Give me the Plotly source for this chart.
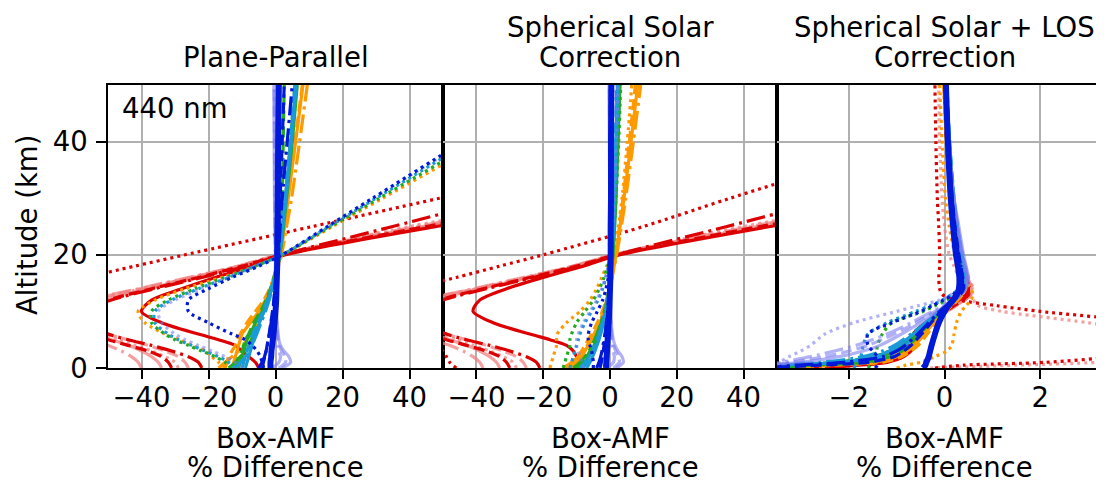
import plotly.graph_objects as go

# ---------------- data ----------------
ALT = [0, 1, 2, 3, 4, 5, 6, 8, 10, 12, 14, 16, 18, 20, 25, 30, 40, 50]
ALT3 = [0, 0.5, 1, 2, 3, 4, 6, 8, 10, 11, 12, 13, 14, 16, 18, 20, 25, 30, 40, 50]

X_TICKS_12 = [-40, -20, 0, 20, 40]
X_TICKS_3 = [-2, 0, 2]
Y_TICKS = [0, 20, 40]
PANEL_TITLES = [["Plane-Parallel"], ["Spherical Solar", "Correction"],
                ["Spherical Solar + LOS", "Correction"]]
X_TITLE = ["Box-AMF", "% Difference"]
Y_TITLE = "Altitude (km)"
WAVE_LABEL = "440 nm"

# Panel 1: Plane-Parallel
P1_LRED_SOLID = [-34, -35, -37, -40, -44, -49, -54, -60, -60, -52, -38, -24, -10, 2, 45, 95, 190, 290]
P1_LRED_DASH = [-26, -27, -29, -33, -38, -44, -50, -58, -62, -55, -40, -25, -11, 1, 44, 95, 190, 290]
P1_LRED_DASHDOT = [-40, -41, -43, -46, -50, -54, -58, -64, -64, -56, -41, -26, -11, 1, 42, 90, 185, 285]
P1_LRED_DOT = [-29, -30, -33, -37, -42, -47, -52, -60, -62, -54, -40, -25, -11, 1, 40, 88, 180, 280]
P1_RED_SOLID = [-5, -6, -8, -10, -12, -17, -23, -34, -40, -37, -28, -18, -7, 3, 48, 100, 200, 300]
P1_RED_DASH = [-31, -32, -34, -38, -44, -50, -55, -60, -59, -50, -37, -23, -10, 2, 45, 95, 190, 290]
P1_RED_DASHDOT = [-22, -23, -26, -31, -37, -44, -50, -57, -57, -49, -36, -22, -9, 2, 35, 68, 140, 210]
P1_RED_DOT = [-75, -78, -81, -85, -88, -91, -94, -98, -97, -90, -74, -57, -42, -27, 11, 49, 125, 200]
P1_OR_SOLID = [-13, -12.5, -12, -11.5, -11, -10.5, -10, -7.5, -5, -3, -1.5, -0.3, 0.8, 1.5, 2.7, 3.8, 6, 8.2]
P1_OR_DASH = [-15, -14.5, -14, -13, -12, -11.5, -10.5, -8.5, -6, -3.5, -1.8, -0.5, 0.6, 1.3, 2.5, 3.6, 5.8, 8]
P1_OR_DASHDOT = [-17, -15, -13, -11, -9.5, -8.5, -7.5, -5.5, -3.8, -2.3, -1.2, -0.2, 0.9, 1.8, 3.3, 4.8, 7.2, 9.5]
P1_OR_DOT = [-15, -17, -19, -21, -25, -29, -33, -39, -41, -36, -27, -16, -6, 2, 17, 32, 62, 92]
P1_GR_SOLID = [-11, -10.5, -10, -9.5, -9, -8.5, -7.5, -6, -4, -2.5, -1.2, -0.2, 0.7, 1.3, 2.4, 3.3, 5, 6.5]
P1_GR_DASH = [-12, -11.5, -11, -10, -9.5, -9, -8, -6.5, -4.5, -2.8, -1.5, -0.5, 0.3, 0.9, 1.5, 2, 2.3, 2.6]
P1_GR_DASHDOT = [-14, -12, -10.5, -9, -8, -7.2, -6.5, -5, -3.5, -2.2, -1.1, -0.2, 0.6, 1.2, 2.2, 3, 4.5, 5.8]
P1_GR_DOT = [-13, -15, -18, -22, -26, -30, -33, -37, -37, -32, -24, -15, -6, 2, 16.5, 31, 60, 89]
P1_TE_DOT = [-12, -14, -17, -21, -25, -29, -32, -36, -36, -31, -23, -14, -6, 2, 16, 30, 58, 86]
P1_TE_SOLID = [-9, -8.5, -8, -7.5, -7, -6.5, -6, -4.8, -3.4, -2.2, -1.1, -0.2, 0.6, 1.2, 2.2, 3.1, 4.7, 6.2]
P1_TE_DASH = [-10, -9.5, -9, -8.5, -8, -7.5, -6.8, -5.3, -3.8, -2.4, -1.3, -0.3, 0.5, 1.1, 2, 2.9, 4.4, 5.8]
P1_TE_DASHDOT = [-12, -10.5, -9, -8, -7, -6.3, -5.6, -4.3, -3, -1.9, -1, -0.2, 0.5, 1.1, 2.1, 3, 4.6, 6]
P1_LB_SOLID = [2, 4.5, 4, 2.5, 1.5, 1, 0.8, 0.5, 0.3, 0.2, 0.1, 0, 0, 0, -0.2, -0.3, -0.4, -0.5]
P1_LB_DASH = [1, 3, 2.8, 1.8, 1.2, 0.8, 0.6, 0.4, 0.2, 0.1, 0, 0, 0, 0, -0.1, -0.2, -0.3, -0.4]
P1_LB_DASHDOT = [-1, 1, 1.5, 1, 0.7, 0.5, 0.4, 0.3, 0.2, 0.1, 0.1, 0, 0, 0, 0, -0.1, -0.2, -0.3]
P1_LB_DOT = [-10, -12, -15, -19, -23, -27, -30, -34, -35, -30, -22, -14, -6, 2, 15.5, 29, 57, 85]
P1_BL_SOLID = [-1.5, -1.5, -1.3, -1.2, -1, -0.8, -0.6, -0.3, 0, 0.2, 0.3, 0.4, 0.5, 0.5, 0.6, 0.7, 0.8, 1]
P1_BL_DASH = [-4, -3.6, -3.2, -2.8, -2.5, -2.2, -1.9, -1.4, -0.9, -0.5, -0.2, 0.1, 0.4, 0.6, 1, 1.4, 2, 2.6]
P1_BL_DASHDOT = [-5, -4, -3.3, -2.8, -2.4, -2.1, -1.8, -1.3, -0.8, -0.4, -0.1, 0.2, 0.5, 0.8, 1.4, 2, 3.5, 5]
P1_BL_DOT = [-3.5, -4, -4.5, -5.5, -7, -9, -13, -20, -26, -26, -20, -13, -5, 2, 15.5, 29, 56, 83]

# Panel 2: Spherical Solar Correction
P2_LRED_SOLID = [-33, -34, -36, -39, -43, -48, -53, -60, -61, -53, -39, -24, -10, 2, 45, 95, 190, 290]
P2_LRED_DASH = [-25, -26, -28, -32, -37, -43, -49, -57, -61, -55, -40, -25, -11, 1, 44, 95, 190, 290]
P2_LRED_DASHDOT = [-38, -39, -41, -44, -48, -53, -57, -63, -64, -56, -41, -26, -11, 1, 42, 90, 185, 285]
P2_LRED_DOT = [-28, -29, -32, -36, -41, -46, -51, -59, -62, -54, -40, -25, -11, 1, 40, 88, 180, 280]
P2_RED_SOLID = [-8, -9, -10, -11, -13, -18, -24, -35, -41, -39, -31, -20, -8, 3, 48, 100, 200, 300]
P2_RED_DASH = [-30, -31, -33, -37, -43, -49, -54, -60, -59, -51, -38, -24, -10, 2, 45, 95, 190, 290]
P2_RED_DASHDOT = [-21, -22, -25, -30, -36, -43, -49, -56, -57, -50, -37, -23, -9, 2, 35, 68, 140, 210]
P2_RED_DOT = [-46, -48, -49, -50, -52, -55, -60, -68, -72, -70, -60, -46, -33, -20, 10, 36, 90, 140]
P2_OR_SOLID = [-12, -10, -8.5, -7.5, -6.5, -5.5, -4.5, -3, -1.8, -0.8, 0, 0.6, 1.2, 1.8, 3, 4.2, 6.3, 8.3]
P2_OR_DASH = [-13, -11, -9.5, -8.5, -7.5, -6.5, -5.5, -3.8, -2.3, -1.1, -0.2, 0.5, 1.1, 1.7, 2.8, 3.9, 5.8, 7.6]
P2_OR_DASHDOT = [-14, -11.5, -9.5, -8, -6.8, -5.8, -4.8, -3.2, -2, -1, -0.1, 0.6, 1.3, 2, 3.4, 4.7, 7, 9.2]
P2_OR_DOT = [-18, -17.5, -17, -16.5, -16, -16, -15.8, -13, -9, -6, -4, -2.5, -1, 0.8, 2.5, 3.6, 5.2, 6.5]
P2_GR_SOLID = [-9, -7.5, -6.5, -5.5, -4.8, -4, -3.3, -2.2, -1.3, -0.6, -0.1, 0.3, 0.6, 0.9, 1.4, 1.8, 2.4, 3]
P2_GR_DASH = [-10, -8.5, -7, -6, -5.2, -4.5, -3.8, -2.6, -1.6, -0.8, -0.3, 0.1, 0.4, 0.7, 1.1, 1.5, 2, 2.5]
P2_GR_DASHDOT = [-11, -9, -7.5, -6.3, -5.4, -4.6, -3.9, -2.7, -1.7, -0.9, -0.3, 0.1, 0.5, 0.8, 1.3, 1.7, 2.3, 2.8]
P2_GR_DOT = [-14, -13.5, -13, -12.5, -12, -12, -11.5, -10, -7.5, -5, -3.2, -1.8, -0.7, 0.2, 1.2, 1.8, 2.6, 3.2]
P2_TE_SOLID = [-7, -6, -5.2, -4.5, -3.9, -3.3, -2.8, -1.9, -1.1, -0.5, -0.1, 0.2, 0.4, 0.6, 1, 1.3, 1.8, 2.2]
P2_TE_DASH = [-8, -7, -6, -5.2, -4.5, -3.8, -3.2, -2.2, -1.3, -0.7, -0.2, 0.1, 0.3, 0.5, 0.9, 1.2, 1.6, 2]
P2_TE_DASHDOT = [-9, -7.5, -6.3, -5.4, -4.6, -3.9, -3.3, -2.3, -1.4, -0.7, -0.2, 0.1, 0.4, 0.6, 1, 1.3, 1.8, 2.2]
P2_TE_DOT = [-12, -11.5, -11, -10.5, -10, -9.5, -9, -7.5, -5.5, -3.6, -2.2, -1.2, -0.4, 0.2, 0.9, 1.4, 2, 2.5]
P2_LB_SOLID = [2, 4, 3.6, 2.4, 1.5, 1, 0.7, 0.4, 0.2, 0.1, 0, 0, 0, 0, -0.1, -0.1, -0.2, -0.3]
P2_LB_DASH = [1, 2.8, 2.5, 1.7, 1.1, 0.7, 0.5, 0.3, 0.2, 0.1, 0, 0, 0, 0, 0, -0.1, -0.1, -0.2]
P2_LB_DASHDOT = [-1, 1, 1.3, 0.9, 0.6, 0.4, 0.3, 0.2, 0.1, 0, 0, 0, 0, 0, 0, 0, -0.1, -0.1]
P2_LB_DOT = [-8, -8.5, -9, -9.5, -10, -10, -9.5, -8, -6, -4, -2.5, -1.4, -0.5, 0.1, 0.8, 1.3, 1.9, 2.4]
P2_BL_SOLID = [-1.2, -1.1, -1, -0.9, -0.8, -0.7, -0.6, -0.4, -0.2, -0.1, 0, 0.1, 0.1, 0.2, 0.2, 0.3, 0.3, 0.4]
P2_BL_DASH = [-3, -2.6, -2.3, -2, -1.8, -1.6, -1.4, -1, -0.6, -0.3, -0.1, 0, 0.1, 0.2, 0.3, 0.4, 0.5, 0.6]
P2_BL_DASHDOT = [-4, -3.3, -2.8, -2.4, -2.1, -1.8, -1.5, -1.1, -0.7, -0.4, -0.2, 0, 0.1, 0.2, 0.3, 0.4, 0.5, 0.6]
P2_BL_DOT = [-5, -5, -5.2, -5.5, -6, -6.5, -6.5, -5.5, -3.8, -2.2, -1.2, -0.5, 0, 0.3, 0.5, 0.6, 0.7, 0.8]

# Panel 3: Spherical Solar + LOS Correction
P3_LRED_SOLID = [-3.0, -2.3, -1.5, -1.0, -0.8, -0.66, -0.5, -0.25, 0.05, 0.22, 0.4, 0.52, 0.55, 0.47, 0.4, 0.33, 0.22, 0.14, 0.05, 0.0]
P3_LRED_DASH = [-3.2, -2.5, -1.6, -1.1, -0.85, -0.7, -0.52, -0.25, 0.06, 0.24, 0.42, 0.55, 0.58, 0.48, 0.41, 0.34, 0.22, 0.14, 0.05, 0.0]
P3_LRED_DASHDOT = [-3.3, -2.6, -1.7, -1.15, -0.9, -0.74, -0.55, -0.27, 0.05, 0.23, 0.42, 0.56, 0.6, 0.5, 0.42, 0.35, 0.23, 0.14, 0.05, 0.0]
P3_LRED_DOT = [-0.3, 1.5, 3.2, 4.5, 5.0, 5.0, 4.5, 3.0, 1.2, 0.7, 0.6, 0.5, 0.4, 0.3, 0.2, 0.1, 0.0, -0.05, -0.1, -0.12]
P3_RED_SOLID = [-2.5, -1.8, -1.2, -0.85, -0.7, -0.62, -0.65, -0.4, -0.05, 0.12, 0.3, 0.45, 0.5, 0.45, 0.4, 0.33, 0.22, 0.14, 0.05, 0.0]
P3_RED_DASH = [-2.8, -2.0, -1.3, -0.95, -0.8, -0.7, -0.6, -0.3, 0.02, 0.2, 0.38, 0.5, 0.52, 0.45, 0.39, 0.33, 0.22, 0.14, 0.05, 0.0]
P3_RED_DASHDOT = [-3.0, -2.2, -1.4, -1.0, -0.85, -0.75, -0.65, -0.35, 0.0, 0.17, 0.35, 0.48, 0.5, 0.44, 0.38, 0.32, 0.21, 0.13, 0.04, -0.01]
P3_RED_DOT = [-0.2, 0.4, 2.1, 3.6, 4.5, 5.0, 5.2, 4.2, 2.0, 1.1, 0.3, -0.05, -0.1, -0.12, -0.1, -0.1, -0.12, -0.15, -0.18, -0.2]
P3_OR_SOLID = [-3.5, -2.6, -1.5, -1.0, -0.78, -0.62, -0.42, -0.22, 0.0, 0.12, 0.25, 0.36, 0.42, 0.42, 0.38, 0.32, 0.22, 0.14, 0.05, 0.0]
P3_OR_DASH = [-3.3, -2.3, -1.3, -0.9, -0.7, -0.55, -0.36, -0.18, 0.03, 0.15, 0.28, 0.38, 0.44, 0.43, 0.39, 0.33, 0.22, 0.14, 0.05, -0.01]
P3_OR_DASHDOT = [-3.5, -2.8, -1.7, -1.1, -0.85, -0.68, -0.46, -0.25, -0.02, 0.12, 0.25, 0.36, 0.42, 0.42, 0.38, 0.32, 0.21, 0.13, 0.04, -0.02]
P3_OR_DOT = [-1.0, -0.8, -0.5, -0.2, 0.05, 0.15, 0.2, 0.25, 0.35, 0.45, 0.55, 0.6, 0.55, 0.4, 0.3, 0.22, 0.1, 0.02, -0.05, -0.1]
P3_GR_SOLID = [-3.7, -3.2, -2.0, -1.35, -1.05, -0.85, -0.6, -0.35, -0.1, 0.04, 0.19, 0.31, 0.38, 0.4, 0.37, 0.33, 0.24, 0.17, 0.09, 0.03]
P3_GR_DASH = [-3.6, -2.8, -1.7, -1.15, -0.9, -0.75, -0.52, -0.3, -0.08, 0.06, 0.2, 0.32, 0.38, 0.4, 0.37, 0.32, 0.24, 0.17, 0.09, 0.03]
P3_GR_DASHDOT = [-3.7, -3.3, -2.3, -1.5, -1.15, -0.95, -0.65, -0.38, -0.12, 0.03, 0.18, 0.3, 0.37, 0.39, 0.36, 0.31, 0.23, 0.16, 0.08, 0.03]
P3_GR_DOT = [-1.6, -1.55, -1.5, -1.45, -1.42, -1.4, -1.3, -1.1, -0.45, -0.2, 0.05, 0.25, 0.38, 0.42, 0.38, 0.32, 0.22, 0.14, 0.06, 0.0]
P3_TE_SOLID = [-3.8, -3.4, -2.2, -1.45, -1.15, -0.95, -0.65, -0.38, -0.12, 0.02, 0.17, 0.3, 0.38, 0.42, 0.4, 0.35, 0.26, 0.19, 0.1, 0.04]
P3_TE_DASH = [-3.8, -3.0, -1.9, -1.25, -1.0, -0.82, -0.58, -0.34, -0.1, 0.04, 0.2, 0.33, 0.42, 0.45, 0.42, 0.37, 0.27, 0.2, 0.11, 0.05]
P3_TE_DASHDOT = [-3.8, -3.5, -2.6, -1.7, -1.3, -1.05, -0.7, -0.4, -0.13, 0.02, 0.17, 0.3, 0.38, 0.43, 0.41, 0.36, 0.27, 0.19, 0.1, 0.04]
P3_TE_DOT = [-1.9, -1.85, -1.8, -1.75, -1.72, -1.7, -1.6, -1.2, -0.6, -0.3, -0.05, 0.15, 0.3, 0.38, 0.36, 0.32, 0.24, 0.17, 0.09, 0.03]
P3_LB_SOLID = [-3.8, -3.6, -3.0, -2.2, -1.7, -1.35, -0.9, -0.5, -0.15, 0.02, 0.2, 0.35, 0.45, 0.5, 0.45, 0.4, 0.3, 0.2, 0.1, 0.04]
P3_LB_DASH = [-3.8, -3.6, -3.2, -2.5, -2.0, -1.6, -1.05, -0.6, -0.2, 0.0, 0.18, 0.34, 0.44, 0.48, 0.44, 0.38, 0.28, 0.19, 0.1, 0.04]
P3_LB_DASHDOT = [-3.8, -3.7, -3.4, -2.8, -2.3, -1.85, -1.2, -0.7, -0.25, -0.03, 0.16, 0.32, 0.42, 0.47, 0.43, 0.37, 0.27, 0.18, 0.09, 0.03]
P3_LB_DOT = [-3.8, -3.6, -3.45, -3.25, -3.0, -2.8, -2.5, -1.9, -1.0, -0.55, -0.1, 0.15, 0.3, 0.4, 0.38, 0.33, 0.24, 0.16, 0.08, 0.02]
P3_BL_SOLID = [-0.45, -0.4, -0.38, -0.33, -0.3, -0.27, -0.2, -0.12, 0.0, 0.08, 0.18, 0.26, 0.3, 0.31, 0.28, 0.24, 0.18, 0.13, 0.07, 0.03]
P3_BL_DASH = [-3.8, -2.6, -1.6, -1.05, -0.85, -0.7, -0.48, -0.28, -0.07, 0.06, 0.2, 0.33, 0.4, 0.38, 0.34, 0.3, 0.22, 0.16, 0.09, 0.04]
P3_BL_DASHDOT = [-3.8, -3.1, -2.1, -1.3, -1.0, -0.82, -0.56, -0.33, -0.1, 0.04, 0.18, 0.3, 0.37, 0.37, 0.34, 0.29, 0.21, 0.15, 0.08, 0.03]
P3_BL_DOT = [-1.45, -1.4, -1.38, -1.4, -1.5, -1.6, -1.6, -1.1, -0.5, -0.25, -0.02, 0.18, 0.28, 0.33, 0.31, 0.28, 0.2, 0.14, 0.07, 0.02]

# ---------------- styles ----------------
COLORS = {
    "lred": "rgba(240,128,128,0.75)",
    "red": "#dd0000",
    "or": "#ff9900",
    "gr": "#22aa22",
    "te": "#1a9ad6",
    "lb": "rgba(125,125,240,0.6)",
    "bl": "#0018d8",
}
DASHES = {"solid": "solid", "dash": "11px,5px", "dashdot": "19px,5px,3px,5px", "dot": "3px,4px"}

PANEL_SERIES = [
    ("x", "y", ALT, [
        ("lred", "solid", P1_LRED_SOLID), ("lred", "dash", P1_LRED_DASH), ("lred", "dashdot", P1_LRED_DASHDOT), ("lred", "dot", P1_LRED_DOT),
        ("red", "solid", P1_RED_SOLID), ("red", "dash", P1_RED_DASH), ("red", "dashdot", P1_RED_DASHDOT), ("red", "dot", P1_RED_DOT),
        ("or", "solid", P1_OR_SOLID), ("or", "dash", P1_OR_DASH), ("or", "dashdot", P1_OR_DASHDOT), ("or", "dot", P1_OR_DOT),
        ("gr", "solid", P1_GR_SOLID), ("gr", "dash", P1_GR_DASH), ("gr", "dashdot", P1_GR_DASHDOT), ("gr", "dot", P1_GR_DOT),
        ("te", "solid", P1_TE_SOLID), ("te", "dash", P1_TE_DASH), ("te", "dashdot", P1_TE_DASHDOT), ("te", "dot", P1_TE_DOT),
        ("lb", "solid", P1_LB_SOLID), ("lb", "dash", P1_LB_DASH), ("lb", "dashdot", P1_LB_DASHDOT), ("lb", "dot", P1_LB_DOT),
        ("bl", "dash", P1_BL_DASH), ("bl", "dashdot", P1_BL_DASHDOT), ("bl", "dot", P1_BL_DOT), ("bl", "solid", P1_BL_SOLID),
    ]),
    ("x2", "y2", ALT, [
        ("lred", "solid", P2_LRED_SOLID), ("lred", "dash", P2_LRED_DASH), ("lred", "dashdot", P2_LRED_DASHDOT), ("lred", "dot", P2_LRED_DOT),
        ("red", "solid", P2_RED_SOLID), ("red", "dash", P2_RED_DASH), ("red", "dashdot", P2_RED_DASHDOT), ("red", "dot", P2_RED_DOT),
        ("or", "solid", P2_OR_SOLID), ("or", "dash", P2_OR_DASH), ("or", "dashdot", P2_OR_DASHDOT), ("or", "dot", P2_OR_DOT),
        ("gr", "solid", P2_GR_SOLID), ("gr", "dash", P2_GR_DASH), ("gr", "dashdot", P2_GR_DASHDOT), ("gr", "dot", P2_GR_DOT),
        ("te", "solid", P2_TE_SOLID), ("te", "dash", P2_TE_DASH), ("te", "dashdot", P2_TE_DASHDOT), ("te", "dot", P2_TE_DOT),
        ("lb", "solid", P2_LB_SOLID), ("lb", "dash", P2_LB_DASH), ("lb", "dashdot", P2_LB_DASHDOT), ("lb", "dot", P2_LB_DOT),
        ("bl", "dash", P2_BL_DASH), ("bl", "dashdot", P2_BL_DASHDOT), ("bl", "dot", P2_BL_DOT), ("bl", "solid", P2_BL_SOLID),
    ]),
    ("x3", "y3", ALT3, [
        ("lred", "solid", P3_LRED_SOLID), ("lred", "dash", P3_LRED_DASH), ("lred", "dashdot", P3_LRED_DASHDOT), ("lred", "dot", P3_LRED_DOT),
        ("red", "solid", P3_RED_SOLID), ("red", "dash", P3_RED_DASH), ("red", "dashdot", P3_RED_DASHDOT), ("red", "dot", P3_RED_DOT),
        ("or", "solid", P3_OR_SOLID), ("or", "dash", P3_OR_DASH), ("or", "dashdot", P3_OR_DASHDOT), ("or", "dot", P3_OR_DOT),
        ("gr", "solid", P3_GR_SOLID), ("gr", "dash", P3_GR_DASH), ("gr", "dashdot", P3_GR_DASHDOT), ("gr", "dot", P3_GR_DOT),
        ("te", "solid", P3_TE_SOLID), ("te", "dash", P3_TE_DASH), ("te", "dashdot", P3_TE_DASHDOT), ("te", "dot", P3_TE_DOT),
        ("lb", "solid", P3_LB_SOLID), ("lb", "dash", P3_LB_DASH), ("lb", "dashdot", P3_LB_DASHDOT), ("lb", "dot", P3_LB_DOT),
        ("bl", "dash", P3_BL_DASH), ("bl", "dashdot", P3_BL_DASHDOT), ("bl", "dot", P3_BL_DOT), ("bl", "solid", P3_BL_SOLID),
    ]),
]

# ---------------- figure ----------------
# The page body adds an 8 px margin, so the figure is 8 px smaller each way.
OFF = 8
W, H = 1104 - OFF, 483 - OFF
ML, MR, MT, MB = 108 - OFF, 0, 85 - OFF, 115
PW, PH = W - ML - MR, H - MT - MB
FONT = "DejaVu Sans, Verdana, sans-serif"
FS = 27.5

fig = go.Figure()
for xa, ya, alt, series in PANEL_SERIES:
    for ckey, dkey, vals in series:
        width = 6 if (ckey == "bl" and dkey == "solid") else 3.2
        fig.add_trace(go.Scatter(
            x=vals, y=alt, xaxis=xa, yaxis=ya, mode="lines",
            line=dict(color=COLORS[ckey], width=width, dash=DASHES[dkey], shape="spline", smoothing=0.8),
            showlegend=False, hoverinfo="skip"))

b1 = 335 / PW
b2 = 669 / PW
common_x = dict(showline=True, linecolor="black", linewidth=1.5, mirror=True,
                ticks="outside", ticklen=9, tickwidth=1.5, tickcolor="black",
                showgrid=True, gridcolor="#b0b0b0", gridwidth=1.5, zeroline=False,
                tickfont=dict(family=FONT, size=FS, color="black"), ticklabelstandoff=-5)
common_y = dict(range=[0, 50], showgrid=True, gridcolor="#b0b0b0", gridwidth=1.5,
                zeroline=False, tickvals=Y_TICKS, showline=True, linecolor="black", linewidth=1.5)

fig.update_layout(
    width=W, height=H, margin=dict(l=ML, r=MR, t=MT, b=MB, autoexpand=False),
    plot_bgcolor="white", paper_bgcolor="white",
    font=dict(family=FONT, size=FS, color="black"),
    xaxis=dict(domain=[0, b1], range=[-50, 50], tickvals=X_TICKS_12, anchor="y", **common_x),
    xaxis2=dict(domain=[b1, b2], range=[-50, 50], tickvals=X_TICKS_12, anchor="y2", **common_x),
    xaxis3=dict(domain=[b2, 1.0], range=[-3.5, 3.5 - (1112 - 1104) / 47.75], tickvals=X_TICKS_3, anchor="y3", **common_x),
    yaxis=dict(domain=[0, 1], anchor="x", mirror=True, ticks="outside", ticklen=10, tickwidth=1.5,
               tickcolor="black", tickfont=dict(family=FONT, size=FS, color="black"),
               ticklabelstandoff=3, **common_y),
    yaxis2=dict(domain=[0, 1], anchor="x2", mirror=True, showticklabels=False, ticks="", **common_y),
    yaxis3=dict(domain=[0, 1], anchor="x3", mirror=False, showticklabels=False, ticks="", **common_y),
)

def py(page_pix):
    return (H - MB - (page_pix - OFF)) / PH

annots = []
for xr, lines in zip(["x", "x2", "x3"], PANEL_TITLES):
    ys = [57] if len(lines) == 1 else [27, 57]
    for txt, yy in zip(lines, ys):
        annots.append(dict(text=txt, x=0.0, xref=xr, y=py(yy), yref="paper",
                           xanchor="center", yanchor="middle", showarrow=False,
                           font=dict(family=FONT, size=FS, color="black")))
for xr in ["x", "x2", "x3"]:
    for txt, yy in zip(X_TITLE, [438, 467]):
        annots.append(dict(text=txt, x=0.0, xref=xr, y=py(yy), yref="paper",
                           xanchor="center", yanchor="middle", showarrow=False,
                           font=dict(family=FONT, size=FS, color="black")))
annots.append(dict(text=Y_TITLE, x=(27 - 108) / PW, xref="paper", y=py(225), yref="paper",
                   xanchor="center", yanchor="middle", textangle=-90, showarrow=False,
                   font=dict(family=FONT, size=FS, color="black")))
annots.append(dict(text=WAVE_LABEL, x=-46.5, xref="x", y=46.0, yref="y",
                   xanchor="left", yanchor="middle", showarrow=False,
                   font=dict(family=FONT, size=FS, color="black")))
fig.update_layout(annotations=annots)

fig.write_html("out.html")
